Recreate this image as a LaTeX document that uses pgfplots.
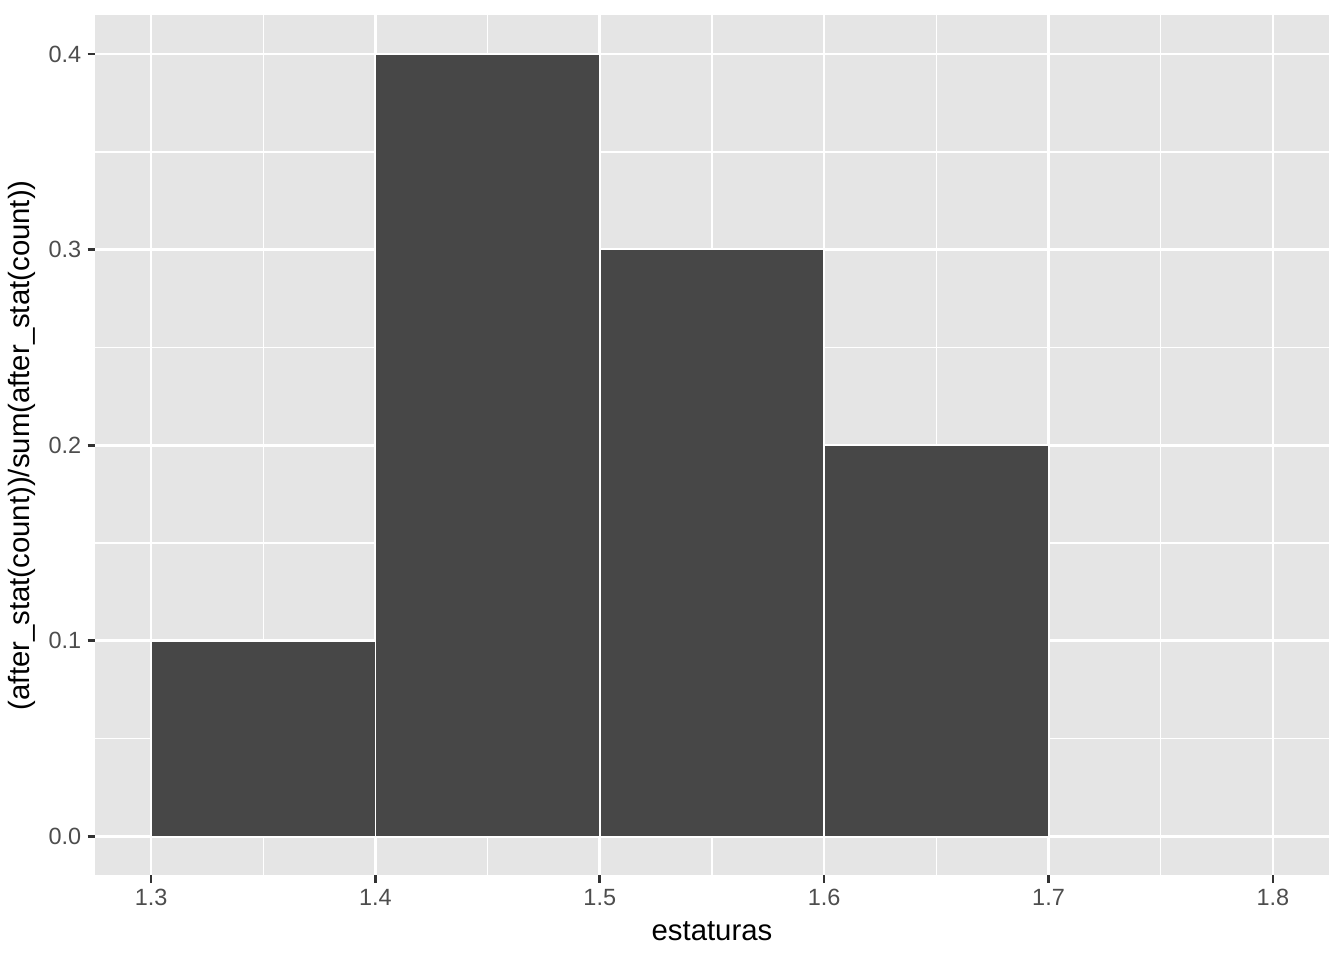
\documentclass[border=0pt]{standalone}
\usepackage{pgfplots}
\pgfplotsset{compat=1.18}
\usepackage{fontspec}
\setmainfont{Liberation Sans}
\definecolor{panelbg}{HTML}{E5E5E5}
\definecolor{barfill}{HTML}{474747}
\definecolor{ticklab}{HTML}{4D4D4D}
\definecolor{tickcol}{HTML}{333333}
\begin{document}
\begin{tikzpicture}
\path[use as bounding box] (0,0) rectangle (504pt,360pt);
\begin{axis}[
  at={(35.62pt,31.7pt)}, anchor=south west,
  scale only axis, width=462.75pt, height=322.7pt,
  xmin=1.275, xmax=1.825, ymin=-0.02, ymax=0.42,
  xtick={1.3,1.4,1.5,1.6,1.7,1.8},
  xticklabels={1.3,1.4,1.5,1.6,1.7,1.8},
  ytick={0,0.1,0.2,0.3,0.4},
  yticklabels={0.0,0.1,0.2,0.3,0.4},
  minor xtick={1.35,1.45,1.55,1.65,1.75},
  minor ytick={0.05,0.15,0.25,0.35},
  minor tick length=0pt,
  grid=both,
  major grid style={white, line width=1pt},
  minor grid style={white, line width=0.5pt},
  axis background/.style={fill=panelbg},
  axis line style={draw=none},
  xtick pos=bottom, ytick pos=left,
  tick align=outside,
  major tick length=2.75pt,
  tick style={tickcol, line width=1pt},
  ticklabel style={font=\fontsize{8.8pt}{10pt}\selectfont, text=ticklab},
  xticklabel style={inner sep=0pt, anchor=north, yshift=-2.2pt},
  yticklabel style={inner sep=0pt, anchor=east, xshift=-2.2pt},
  xlabel={estaturas},
  ylabel={(after\_stat(count))/sum(after\_stat(count))},
  xlabel style={font=\fontsize{11pt}{13pt}\selectfont, at={(axis description cs:0.5,0)}, anchor=base, yshift=-24.2pt, inner sep=0pt},
  ylabel style={font=\fontsize{11pt}{13pt}\selectfont, at={(axis description cs:0,0.5)}, anchor=base, yshift=24.5pt, inner sep=0pt},
  clip=false,
]
\addplot[ybar interval, fill=barfill, draw=white, line width=0.6pt]
  coordinates {(1.3,0.1) (1.4,0.4) (1.5,0.3) (1.6,0.2) (1.7,0.2)};
\end{axis}
\end{tikzpicture}
\end{document}
